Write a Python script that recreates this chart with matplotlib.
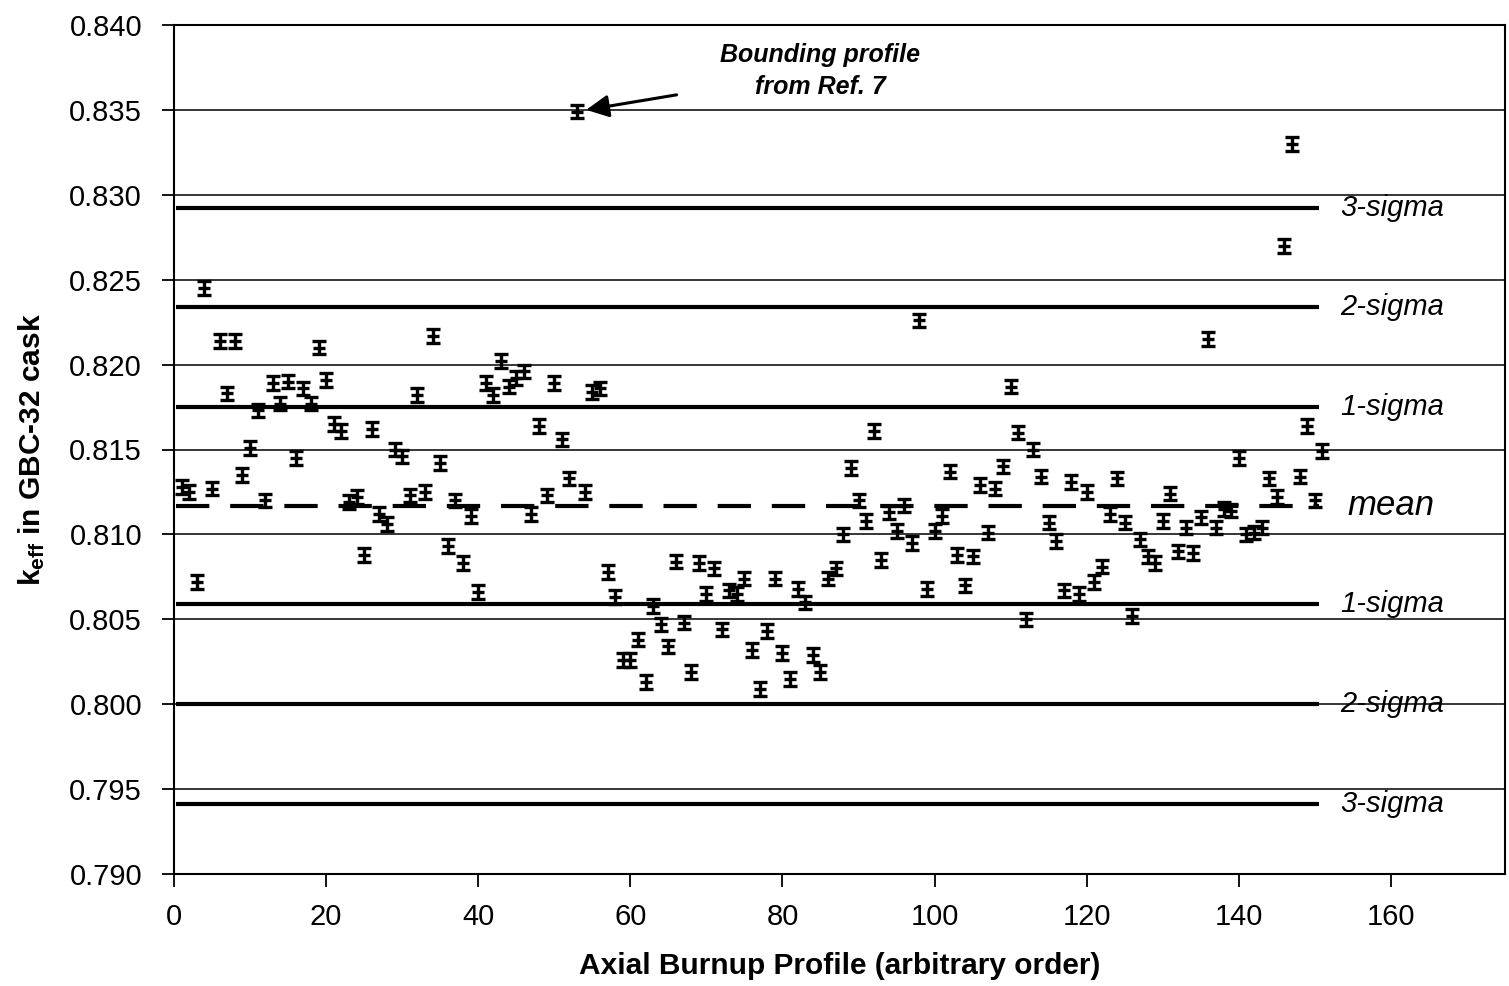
import matplotlib
matplotlib.use("Agg")
import matplotlib.pyplot as plt
import numpy as np

plt.rcParams['font.family'] = ['Liberation Sans', 'DejaVu Sans']
plt.rcParams['mathtext.fontset'] = 'custom'
plt.rcParams['mathtext.rm'] = 'Liberation Sans'
plt.rcParams['mathtext.bf'] = 'Liberation Sans:bold'

# ---- data ----
profile = list(range(1, 152))
keff = [
    0.8128, 0.8125, 0.8072, 0.8245, 0.8127, 0.8214, 0.8183, 0.8214, 0.8135, 0.8151,
    0.8173, 0.8120, 0.8189, 0.8177, 0.8190, 0.8145, 0.8186, 0.8177, 0.8210, 0.8191,
    0.8165, 0.8161, 0.8119, 0.8122, 0.8088, 0.8162, 0.8112, 0.8106, 0.8150, 0.8146,
    0.8123, 0.8182, 0.8125, 0.8217, 0.8142, 0.8093, 0.8120, 0.8083, 0.8111, 0.8066,
    0.8189, 0.8182, 0.8202, 0.8187, 0.8192, 0.8196, 0.8112, 0.8164, 0.8123, 0.8189,
    0.8156, 0.8133, 0.8349, 0.8125, 0.8184, 0.8186, 0.8078, 0.8063, 0.8026, 0.8026,
    0.8038, 0.8013, 0.8058, 0.8047, 0.8034, 0.8084, 0.8048, 0.8019, 0.8083, 0.8065,
    0.8080, 0.8044, 0.8067, 0.8065, 0.8074, 0.8032, 0.8009, 0.8043, 0.8074, 0.8030,
    0.8015, 0.8068, 0.8060, 0.8029, 0.8019, 0.8074, 0.8080, 0.8100, 0.8139, 0.8120,
    0.8108, 0.8161, 0.8085, 0.8113, 0.8102, 0.8117, 0.8095, 0.8226, 0.8068, 0.8102,
    0.8111, 0.8137, 0.8088, 0.8070, 0.8087, 0.8129, 0.8101, 0.8127, 0.8140, 0.8187,
    0.8160, 0.8050, 0.8150, 0.8134, 0.8107, 0.8096, 0.8067, 0.8131, 0.8065, 0.8125,
    0.8072, 0.8081, 0.8112, 0.8133, 0.8107, 0.8052, 0.8097, 0.8087, 0.8083, 0.8108,
    0.8124, 0.8090, 0.8104, 0.8089, 0.8110, 0.8215, 0.8104, 0.8115, 0.8114, 0.8145,
    0.8100, 0.8101, 0.8104, 0.8133, 0.8122, 0.8270, 0.8330, 0.8134, 0.8164, 0.8120,
    0.8149,
]
keff_err = [0.0004] * len(keff)

mean_value = 0.8117
sigma_levels = [0.8292, 0.8234, 0.8175, 0.8059, 0.8000, 0.7941]
sigma_labels = ['3-sigma', '2-sigma', '1-sigma', '1-sigma', '2-sigma', '3-sigma']
line_start, line_end = 0.3, 150.5

xticks = [0, 20, 40, 60, 80, 100, 120, 140, 160]
yticks = [0.790, 0.795, 0.800, 0.805, 0.810, 0.815, 0.820, 0.825, 0.830, 0.835, 0.840]

# ---- figure ----
fig = plt.figure(figsize=(15.09, 9.86), dpi=100)
ax = fig.add_axes([174/1509, 1-874/986, (1505-174)/1509, (874-25)/986])
ax.set_xlim(0, 175)
ax.set_ylim(0.790, 0.840)

for yv in yticks:
    ax.axhline(yv, color='black', lw=1.1, zorder=1)

for lvl in sigma_levels:
    ax.plot([line_start, line_end], [lvl, lvl], color='black', lw=3, zorder=2,
            solid_capstyle='butt')
ax.plot([line_start, line_end], [mean_value, mean_value], color='black', lw=3,
        dashes=(8, 5), zorder=2)

ax.errorbar(profile, keff, yerr=keff_err, fmt='_', color='black', ms=9, mew=2.4,
            elinewidth=2.4, capsize=5, capthick=2.4, zorder=3)

for lvl, lab in zip(sigma_levels, sigma_labels):
    ax.text(153.3, lvl, lab, fontsize=21, style='italic', ha='left', va='center',
            zorder=4)
ax.text(154.3, mean_value, 'mean', fontsize=25, style='italic', ha='left',
        va='center', zorder=4)

ax.annotate('Bounding profile\nfrom Ref. 7', xy=(54.2, 0.8350), xytext=(85, 0.8373),
            fontsize=18, fontweight='bold', style='italic', ha='center', va='center',
            linespacing=1.45,
            arrowprops=dict(arrowstyle='-|>', color='black', lw=2.2,
                            mutation_scale=34, shrinkA=30, shrinkB=0))

ax.set_xticks(xticks)
ax.set_yticks(yticks)
ax.set_yticklabels([f'{v:.3f}' for v in yticks])
ax.tick_params(axis='both', direction='out', length=9, width=1.3, labelsize=21,
               colors='black')
ax.tick_params(axis='x', pad=12)
ax.tick_params(axis='y', pad=14)
for sp in ax.spines.values():
    sp.set_linewidth(1.5)
    sp.set_color('black')

ax.set_xlabel('Axial Burnup Profile (arbitrary order)', fontsize=21.5,
              fontweight='bold', labelpad=15)
ax.set_ylabel(r'$\mathbf{k_{eff}}$ in GBC-32 cask', fontsize=21.5,
              fontweight='bold', labelpad=16)

fig.savefig('out.png', dpi=100)
